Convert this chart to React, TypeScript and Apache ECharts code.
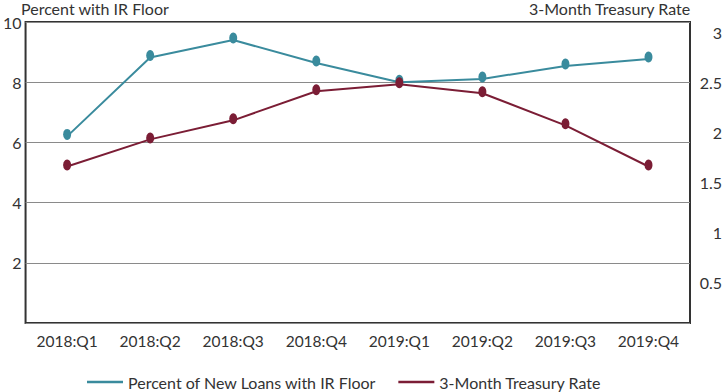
import React, { useEffect, useRef } from "react";
import * as echarts from "echarts";

const categories = ["2018:Q1", "2018:Q2", "2018:Q3", "2018:Q4", "2019:Q1", "2019:Q2", "2019:Q3", "2019:Q4"];
const irFloorPct = [6.2, 8.82, 9.4, 8.64, 8.0, 8.11, 8.54, 8.77];
const treasuryRate = [1.66, 1.93, 2.12, 2.41, 2.48, 2.39, 2.07, 1.66];
const leftTicks = [2, 4, 6, 8, 10];
const rightTicks = [0.5, 1, 1.5, 2, 2.5, 3];

const TEAL = "#3a8b9d";
const MAROON = "#7b1d35";
const TEXT = "#333333";
const FONT = "Lato";

export default function App() {
  const ref = useRef<HTMLDivElement>(null);
  useEffect(() => {
    if (!ref.current) return;
    const chart = echarts.init(ref.current, undefined, { renderer: "svg" });
    chart.setOption({
      animation: false,
      textStyle: { fontFamily: FONT, color: TEXT },
      title: [
        { text: "Percent with IR Floor", left: 21, top: 0, padding: 0, textStyle: { fontFamily: FONT, fontSize: 16, fontWeight: "normal", color: TEXT } },
        { text: "3-Month Treasury Rate", right: 34, top: 0, padding: 0, textStyle: { fontFamily: FONT, fontSize: 16, fontWeight: "normal", color: TEXT } },
      ],
      grid: { left: 21, right: 33, top: 22, bottom: 69, show: true, borderColor: "#333", borderWidth: 2, backgroundColor: "transparent" },
      legend: {
        left: 82,
        top: 369,
        icon: "rect",
        itemWidth: 36,
        itemHeight: 2.5,
        itemGap: 22,
        textStyle: { fontFamily: FONT, fontSize: 16, color: TEXT },
        data: ["Percent of New Loans with IR Floor", "3-Month Treasury Rate"],
      },
      xAxis: {
        type: "category",
        data: categories,
        boundaryGap: true,
        axisLine: { show: false },
        axisTick: { show: false },
        axisLabel: { fontFamily: FONT, fontSize: 15.5, color: TEXT, margin: 10 },
      },
      yAxis: [
        {
          type: "value",
          min: 0,
          max: 10,
          interval: 2,
          axisLine: { show: false },
          axisTick: { show: false },
          splitLine: { show: true, lineStyle: { color: "#8a8a8a", width: 1.2 } },
          axisLabel: {
            fontFamily: FONT,
            fontSize: 16,
            color: TEXT,
            margin: 4,
            customValues: leftTicks,
          },
        },
        {
          type: "value",
          position: "right",
          min: 0.1,
          max: 3.1,
          axisLine: { show: false },
          axisTick: { show: false },
          splitLine: { show: false },
          axisLabel: {
            fontFamily: FONT,
            fontSize: 16,
            color: TEXT,
            margin: 32,
            align: "right",
            customValues: rightTicks,
          },
        },
      ],
      series: [
        {
          name: "Percent of New Loans with IR Floor",
          type: "line",
          yAxisIndex: 0,
          data: irFloorPct,
          symbol: "circle",
          symbolSize: [8, 11],
          symbolOffset: [0, -2],
          lineStyle: { color: TEAL, width: 2 },
          itemStyle: { color: TEAL },
          z: 3,
        },
        {
          name: "3-Month Treasury Rate",
          type: "line",
          yAxisIndex: 1,
          data: treasuryRate,
          symbol: "circle",
          symbolSize: [8, 11],
          symbolOffset: [0, -1.5],
          lineStyle: { color: MAROON, width: 2 },
          itemStyle: { color: MAROON },
          z: 4,
        },
      ],
    });
    return () => chart.dispose();
  }, []);
  return <div ref={ref} style={{ width: 725, height: 392, position: "absolute", left: 0, top: 0 }} />;
}
